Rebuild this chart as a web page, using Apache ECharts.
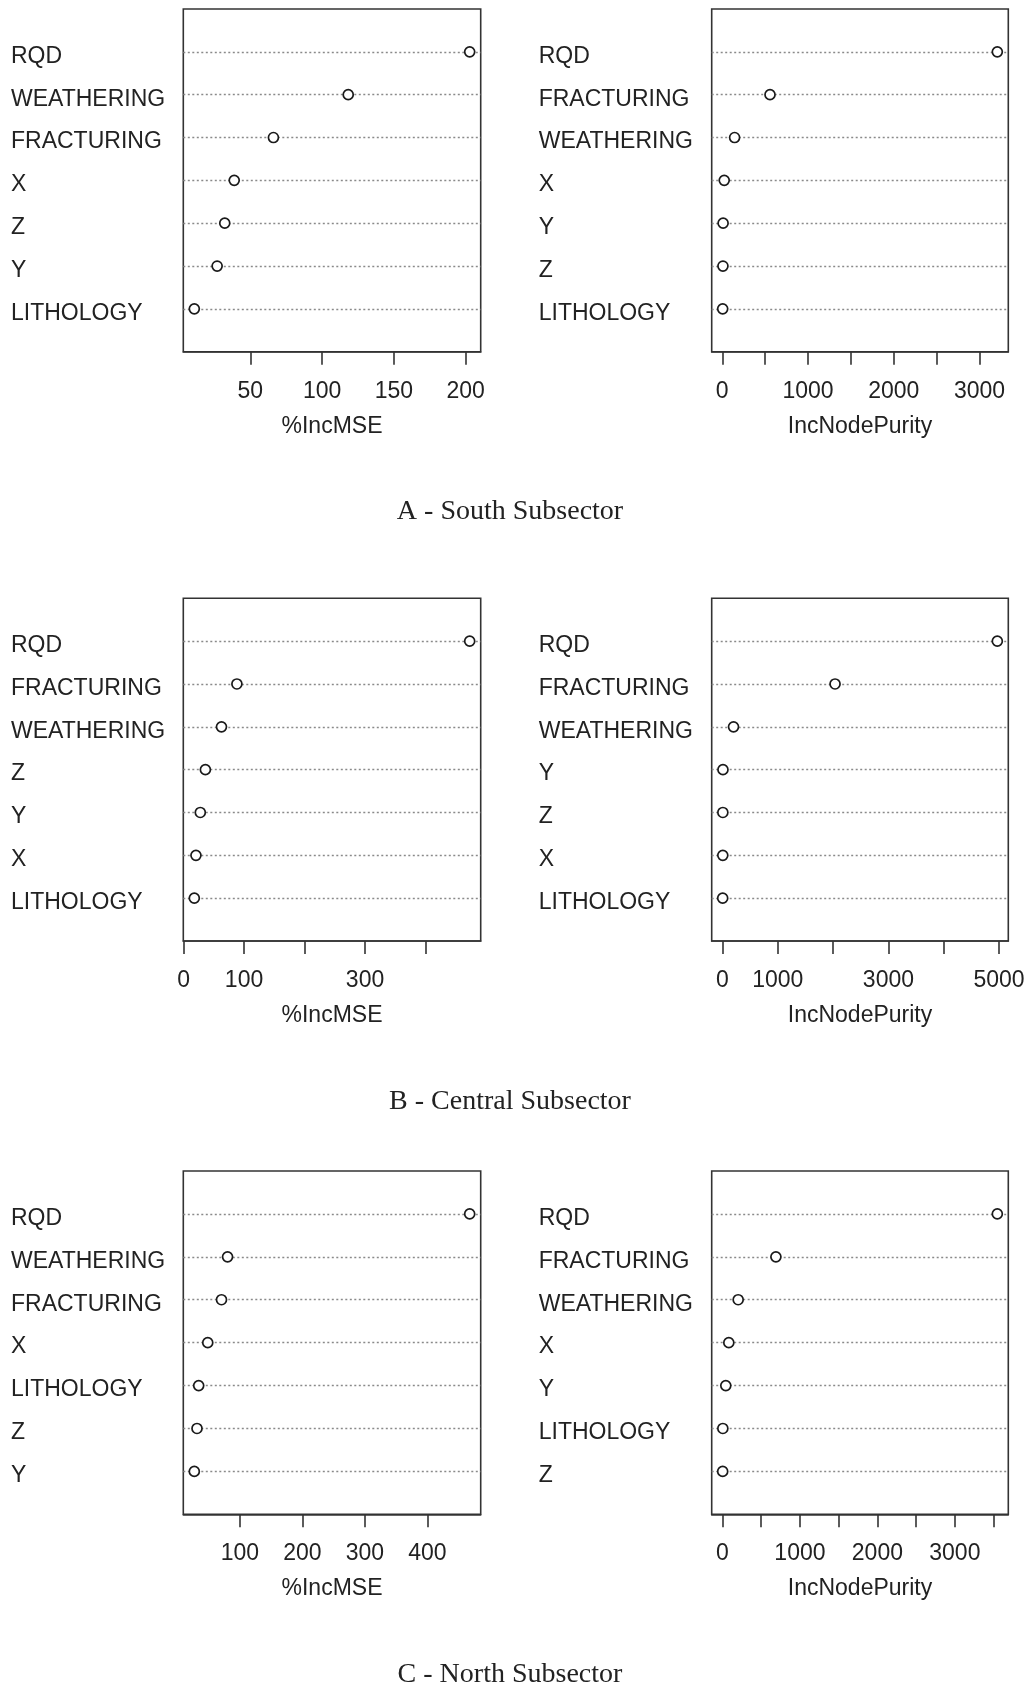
<!DOCTYPE html>
<html>
<head>
<meta charset="utf-8">
<script src="https://cdn.jsdelivr.net/npm/echarts@6/dist/echarts.min.js"></script>
<style>
  html, body { margin: 0; padding: 0; background: #fff; }
  #chart { width: 1032px; height: 1689px; }
</style>
</head>
<body>
<div id="chart"></div>
<script>
// Random-forest variable importance, listed from most to least important.

// A - South Subsector
const southMseVars = ['RQD', 'WEATHERING', 'FRACTURING', 'X', 'Z', 'Y', 'LITHOLOGY'];
const southMse = [202.8, 118.2, 66.1, 38.8, 32.2, 26.9, 11.0];
const southMseTicks = [50, 100, 150, 200];
const southMseLabels = [50, 100, 150, 200];

const southPurityVars = ['RQD', 'FRACTURING', 'WEATHERING', 'X', 'Y', 'Z', 'LITHOLOGY'];
const southPurity = [3208, 557, 144, 23, 10, 8, 5];
const southPurityTicks = [0, 500, 1000, 1500, 2000, 2500, 3000];
const southPurityLabels = [0, 1000, 2000, 3000];

// B - Central Subsector
const centralMseVars = ['RQD', 'FRACTURING', 'WEATHERING', 'Z', 'Y', 'X', 'LITHOLOGY'];
const centralMse = [473, 88.2, 62.7, 36.1, 27.7, 20.5, 17.8];
const centralMseTicks = [0, 100, 200, 300, 400];
const centralMseLabels = [0, 100, 300];

const centralPurityVars = ['RQD', 'FRACTURING', 'WEATHERING', 'Y', 'Z', 'X', 'LITHOLOGY'];
const centralPurity = [4969, 2035, 199, 8, 6, 5, 3];
const centralPurityTicks = [0, 1000, 2000, 3000, 4000, 5000];
const centralPurityLabels = [0, 1000, 3000, 5000];

// C - North Subsector
const northMseVars = ['RQD', 'WEATHERING', 'FRACTURING', 'X', 'LITHOLOGY', 'Z', 'Y'];
const northMse = [467.6, 80.2, 70.5, 48.5, 34.0, 31.3, 27.0];
const northMseTicks = [100, 200, 300, 400];
const northMseLabels = [100, 200, 300, 400];

const northPurityVars = ['RQD', 'FRACTURING', 'WEATHERING', 'X', 'Y', 'LITHOLOGY', 'Z'];
const northPurity = [3548, 690, 203, 82, 43, 5, 3];
const northPurityTicks = [0, 500, 1000, 1500, 2000, 2500, 3000, 3500];
const northPurityLabels = [0, 1000, 2000, 3000];

const measureNames = ['%IncMSE', 'IncNodePurity'];
const sectionTitles = ['A - South Subsector', 'B - Central Subsector', 'C - North Subsector'];

const panels = [
  { vars: southMseVars, vals: southMse, ticks: southMseTicks, labels: southMseLabels, name: measureNames[0], row: 0, col: 0 },
  { vars: southPurityVars, vals: southPurity, ticks: southPurityTicks, labels: southPurityLabels, name: measureNames[1], row: 0, col: 1 },
  { vars: centralMseVars, vals: centralMse, ticks: centralMseTicks, labels: centralMseLabels, name: measureNames[0], row: 1, col: 0 },
  { vars: centralPurityVars, vals: centralPurity, ticks: centralPurityTicks, labels: centralPurityLabels, name: measureNames[1], row: 1, col: 1 },
  { vars: northMseVars, vals: northMse, ticks: northMseTicks, labels: northMseLabels, name: measureNames[0], row: 2, col: 0 },
  { vars: northPurityVars, vals: northPurity, ticks: northPurityTicks, labels: northPurityLabels, name: measureNames[1], row: 2, col: 1 }
];

// Page layout
const colLeft = [183.3, 711.7];
const colWidth = [297.4, 296.6];
const rowTop = [9, 598.3, 1171];
const rowHeight = [342.7, 342.7, 343.3];
const labelX = [11, 538.7];
const titleY = [512, 1102, 1675];

const SANS = '"Liberation Sans", Arial, Helvetica, sans-serif';
const SERIF = '"Liberation Serif", "Times New Roman", serif';
const INK = '#222';

const grids = [], xAxes = [], yAxes = [], series = [];

panels.forEach((p, k) => {
  const n = p.vars.length;
  // dot-chart style range: data range widened by 4% on each side
  const lo = Math.min(...p.vals), hi = Math.max(...p.vals);
  const pad = 0.04 * (hi - lo);

  grids.push({
    left: colLeft[p.col], top: rowTop[p.row],
    width: colWidth[p.col], height: rowHeight[p.row],
    show: true, borderColor: '#333', borderWidth: 1.6,
    backgroundColor: 'transparent',
    outerBoundsMode: 'none', containLabel: false
  });

  xAxes.push({
    type: 'value', gridIndex: k,
    min: lo - pad, max: hi + pad,
    axisLine: { show: true, onZero: false, lineStyle: { color: '#333', width: 1.6 } },
    axisTick: { show: true, length: 13, customValues: p.ticks, lineStyle: { color: '#333', width: 1.6 } },
    axisLabel: {
      customValues: p.labels, formatter: v => String(v),
      fontFamily: SANS, fontSize: 23, color: INK, margin: 28
    },
    splitLine: { show: false },
    name: p.name, nameLocation: 'middle', nameGap: 63,
    nameTextStyle: { fontFamily: SANS, fontSize: 23, color: INK }
  });

  yAxes.push({
    type: 'value', gridIndex: k,
    min: 0, max: n + 1, interval: 1,
    axisLine: { show: false }, axisTick: { show: false },
    axisLabel: {
      formatter: v => (v >= 1 && v <= n) ? p.vars[n - v] : '',
      align: 'left', margin: colLeft[p.col] - labelX[p.col],
      verticalAlign: 'top', lineHeight: 9,
      fontFamily: SANS, fontSize: 23, color: INK
    },
    splitLine: {
      show: true, showMinLine: false, showMaxLine: false,
      lineStyle: { color: '#8a8a8a', width: 1.3, type: [2, 2.5] }
    }
  });

  series.push({
    type: 'scatter', xAxisIndex: k, yAxisIndex: k,
    data: p.vals.map((v, i) => [v, n - i]),
    symbol: 'circle', symbolSize: 10,
    itemStyle: { color: '#fff', borderColor: '#1a1a1a', borderWidth: 1.7, opacity: 1 },
    emphasis: { disabled: true },
    silent: true
  });
});

const chart = echarts.init(document.getElementById('chart'), null, { renderer: 'canvas' });
chart.setOption({
  animation: false,
  backgroundColor: '#fff',
  grid: grids,
  xAxis: xAxes,
  yAxis: yAxes,
  series: series,
  graphic: sectionTitles.map((t, i) => ({
    type: 'text', x: 510, y: titleY[i],
    style: { text: t, font: '28px ' + SERIF, fill: '#222', align: 'center', verticalAlign: 'middle' }
  }))
});
</script>
</body>
</html>
